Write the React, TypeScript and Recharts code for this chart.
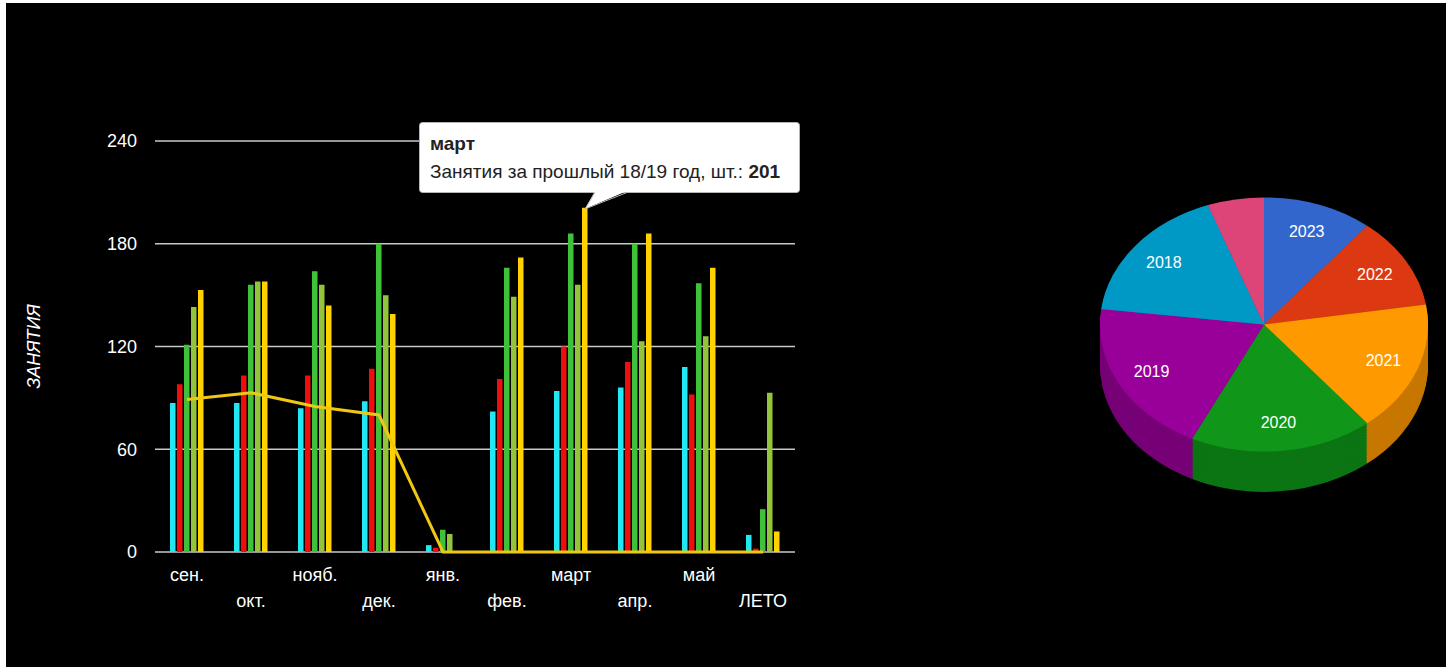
import React from 'react';
import { ComposedChart, Bar, Line, XAxis, YAxis, CartesianGrid, Tooltip, PieChart, Pie, Cell } from 'recharts';

const months = ['сен.', 'окт.', 'нояб.', 'дек.', 'янв.', 'фев.', 'март', 'апр.', 'май', 'ЛЕТО'];
const y2223 = [87, 87, 84, 88, 4, 82, 94, 96, 108, 10];
const y2122 = [98, 103, 103, 107, 2.5, 101, 120, 111, 92, 2];
const y2021 = [121, 156, 164, 180, 13, 166, 186, 180, 157, 25];
const y1920 = [143, 158, 156, 150, 10.5, 149, 156, 123, 126, 93];
const y1819 = [153, 158, 144, 139, 0, 172, 201, 186, 166, 12];
const current = [89, 93, 85, 80, 0, 0, 0, 0, 0, 0];
const yTicks = [0, 60, 120, 180, 240];

const pieYears = ['2023', '2022', '2021', '2020', '2019', '2018', '2017'];
const pieValues = [39, 42, 60, 65, 71, 63, 20];
const pieColors = ['#3366cc', '#dc3912', '#ff9900', '#109618', '#990099', '#0099c6', '#dd4477'];
const pieSide = ['#27509e', '#ab2c0e', '#c77700', '#0c7513', '#770077', '#00779a', '#ac355d'];

const data = months.map((m, i) => ({
  month: m,
  y2223: y2223[i],
  y2122: y2122[i],
  y2021: y2021[i],
  y1920: y1920[i],
  y1819: y1819[i],
  current: current[i],
}));

const pieData = pieYears.map((y, i) => ({ name: y, value: pieValues[i] }));

const FONT = "'Liberation Sans', Arial, sans-serif";
const SQUASH = 0.775;

const XTick = (props: any) => {
  const { x, y, payload, index } = props;
  const dy = index % 2 === 0 ? 21 : 47;
  return (
    <text x={x} y={y + dy} textAnchor="middle" fill="#fff" fontSize={18} fontFamily={FONT}>
      {payload.value}
    </text>
  );
};

const YLabel = (props: any) => {
  const vb = props.viewBox;
  const x = vb.x + 14;
  const y = vb.y + vb.height / 2;
  return (
    <text
      x={x}
      y={y}
      transform={`rotate(-90 ${x} ${y})`}
      textAnchor="middle"
      dominantBaseline="central"
      fill="#fff"
      fontSize={18}
      fontStyle="italic"
      fontFamily={FONT}
    >
      ЗАНЯТИЯ
    </text>
  );
};

// callout box like the original chart's hover tooltip
const TipBox = ({ payload, label }: any) => {
  const item = (payload || []).find((p: any) => p.dataKey === 'y1819');
  if (!item) return null;
  return (
    <svg width={400} height={100} style={{ overflow: 'visible', display: 'block' }}>
      <rect x={0.5} y={0.5} width={380} height={70} rx={3} fill="#fff" stroke="#b5b5b5" />
      <polygon points="176,69 208,69 166,87" fill="#fff" />
      <polyline points="176,70.5 166,87 208,70.5" fill="none" stroke="#b5b5b5" />
      <text x={11} y={28} fontSize={19} fontWeight="bold" fill="#222" fontFamily={FONT}>
        {label}
      </text>
      <text x={11} y={56} fontSize={19} fill="#222" fontFamily={FONT}>
        {item.name}: <tspan fontWeight="bold">{item.value}</tspan>
      </text>
    </svg>
  );
};

const PieLabel = (props: any) => {
  const { cx, cy, midAngle, outerRadius, index } = props;
  if (index === 6) return null;
  const RAD = Math.PI / 180;
  const r = outerRadius * 0.78;
  const x = cx + r * Math.cos(-midAngle * RAD);
  const y = cy + r * Math.sin(-midAngle * RAD);
  return (
    <text
      x={x}
      y={y}
      transform={`translate(${x} ${y}) scale(1 ${1 / SQUASH}) translate(${-x} ${-y})`}
      textAnchor="middle"
      dominantBaseline="central"
      fill="#fff"
      fontSize={16}
      fontFamily={FONT}
    >
      {pieYears[index]}
    </text>
  );
};

const depthLayers: number[] = [];
for (let k = 52; k > 0; k -= 2) depthLayers.push(k);

const App: React.FC = () => {
  return (
    <div style={{ position: 'absolute', left: 0, top: 0, width: 1452, height: 670, background: '#fff', overflow: 'hidden' }}>
      <div style={{ position: 'absolute', left: 6, top: 3, width: 1440, height: 664, background: '#000' }} />

      <div style={{ position: 'absolute', left: 0, top: 0 }}>
        <ComposedChart
          width={820}
          height={640}
          data={data}
          margin={{ top: 141, right: 25, left: 20, bottom: 28 }}
          barGap={1.5}
        >
          <CartesianGrid horizontal vertical={false} stroke="#c8c8c8" strokeWidth={1.5} />
          <XAxis
            dataKey="month"
            axisLine={false}
            tickLine={false}
            interval={0}
            height={60}
            tick={<XTick />}
          />
          <YAxis
            domain={[0, 240]}
            ticks={yTicks}
            axisLine={false}
            tickLine={false}
            width={135}
            tickMargin={12}
            tick={{ fill: '#fff', fontSize: 18, fontFamily: FONT }}
            label={<YLabel />}
          />
          <Tooltip
            active
            defaultIndex={6}
            cursor={false}
            position={{ x: 419, y: 122 }}
            content={<TipBox />}
            isAnimationActive={false}
            allowEscapeViewBox={{ x: true, y: true }}
            wrapperStyle={{ outline: 'none' }}
          />
          <Bar dataKey="y2223" name="Занятия за 22/23 год, шт." fill="#22e6f2" barSize={5.5} isAnimationActive={false} />
          <Bar dataKey="y2122" name="Занятия за 21/22 год, шт." fill="#f20c0c" barSize={5.5} isAnimationActive={false} />
          <Bar dataKey="y2021" name="Занятия за 20/21 год, шт." fill="#3fc23a" barSize={5.5} isAnimationActive={false} />
          <Bar dataKey="y1920" name="Занятия за 19/20 год, шт." fill="#93c43c" barSize={5.5} isAnimationActive={false} />
          <Bar dataKey="y1819" name="Занятия за прошлый 18/19 год, шт." fill="#ffd200" barSize={5.5} isAnimationActive={false} />
          <Line
            dataKey="current"
            name="Занятия в текущем году, шт."
            type="linear"
            stroke="#f0c814"
            strokeWidth={3}
            dot={false}
            activeDot={false}
            isAnimationActive={false}
          />
        </ComposedChart>
      </div>

      <div
        style={{
          position: 'absolute',
          left: 1084,
          top: 185,
          width: 360,
          height: 420,
          transform: `scaleY(${SQUASH})`,
          transformOrigin: '0 0',
        }}
      >
        <PieChart width={360} height={420} margin={{ top: 0, right: 0, bottom: 0, left: 0 }}>
          {depthLayers.map((k) => (
            <Pie
              key={k}
              data={pieData}
              dataKey="value"
              cx={180}
              cy={180 + k}
              outerRadius={164}
              startAngle={90}
              endAngle={-270}
              stroke="none"
              isAnimationActive={false}
            >
              {pieData.map((d, i) => (
                <Cell key={d.name} fill={pieSide[i]} />
              ))}
            </Pie>
          ))}
          <Pie
            data={pieData}
            dataKey="value"
            cx={180}
            cy={180}
            outerRadius={164}
            startAngle={90}
            endAngle={-270}
            stroke="none"
            labelLine={false}
            label={<PieLabel />}
            isAnimationActive={false}
          >
            {pieData.map((d, i) => (
              <Cell key={d.name} fill={pieColors[i]} />
            ))}
          </Pie>
        </PieChart>
      </div>
    </div>
  );
};

export default App;
